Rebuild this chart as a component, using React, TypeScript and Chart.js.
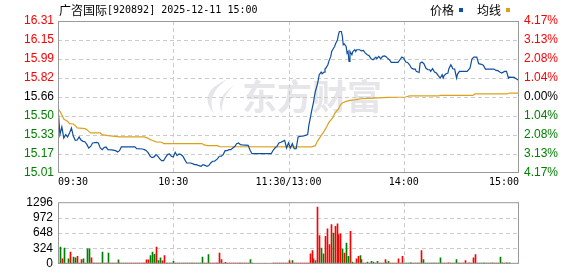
import React, { useEffect, useRef } from 'react';
import { Chart, registerables } from 'chart.js';

Chart.register(...registerables);

// ---------------- data ----------------
const stockName = '广咨国际';
const stockCode = '[920892]';
const tradeTime = '2025-12-11 15:00';
const legendNames = ['价格', '均线'];
const watermarkText = '东方财富';

const prevClose = 15.66;
const limitPct = 4.17;
const priceTickLabels = ['15.01', '15.17', '15.33', '15.50', '15.66', '15.82', '15.99', '16.15', '16.31'];
const pctTickLabels = ['4.17%', '3.13%', '2.08%', '1.04%', '0.00%', '1.04%', '2.08%', '3.13%', '4.17%'];
const volTickLabels = ['0', '324', '648', '972', '1296'];
const volTickValues = [0, 324, 648, 972, 1296];
const timeLabels = ['09:30', '10:30', '11:30/13:00', '14:00', '15:00'];
const timeLabelMinutes = [0, 60, 120, 180, 240];
const totalMinutes = 240;

const priceMinutes = [
  0, 1, 2, 3, 4, 5, 6, 7, 8, 9, 10, 11, 12, 13, 14, 15, 16, 17, 18, 20,
  21, 22, 23, 24, 25, 26, 28, 30, 31, 32, 33, 40, 41, 44, 45, 46, 47, 48, 49, 50,
  51, 52, 53, 54, 55, 56, 57, 58, 59, 60, 61, 62, 63, 64, 65, 66, 67, 69, 70, 71,
  72, 73, 74.5, 75.5, 76.5, 77.5, 78.5, 79.5, 80.5, 81.5, 83, 84, 85, 86, 87, 88, 89, 90, 91, 92,
  93, 94, 95, 96, 99, 100, 101, 111, 112, 113, 114, 115, 116, 117, 118, 119, 120, 121, 122, 123,
  124, 125, 126, 128, 130, 130.5, 131.5, 132, 133, 133.5, 134, 135, 135.5, 136, 137, 137.5, 138.5, 139, 139.5, 140.5,
  141, 142, 142.5, 143, 144, 144.5, 145.5, 146, 146.5, 147.5, 148, 148.5, 149, 150, 150.5, 151, 151.5, 152, 153, 153.5,
  154.5, 155, 155.5, 157, 158, 159, 160, 161, 162, 163, 164, 165.5, 166, 167, 168, 169, 170, 171, 171.5, 172.5,
  173.5, 177, 178, 179, 180, 181, 182, 183, 184, 185, 186, 186.5, 188, 188.5, 189.5, 190.5, 191.5, 192.5, 193.5, 194,
  195, 196, 197, 198, 199, 200, 200.5, 201, 202, 203, 203.5, 204.5, 205, 205.5, 206.5, 207, 207.5, 208, 209, 213,
  214, 214.5, 215.5, 216.5, 218, 219, 220, 221, 221.5, 222.5, 227, 228, 229, 230, 231, 232.5, 233.5, 234.5, 235, 237.5,
  238.5, 239.5, 240,
];
const priceValues = [
  15.574, 15.337, 15.403, 15.308, 15.337, 15.317, 15.351, 15.394, 15.322, 15.288, 15.29, 15.317, 15.29, 15.279, 15.276, 15.253, 15.222, 15.235, 15.265, 15.27,
  15.265, 15.222, 15.208, 15.225, 15.23, 15.208, 15.205, 15.199, 15.188, 15.199, 15.231, 15.231, 15.216, 15.213, 15.208, 15.199, 15.18, 15.15, 15.139, 15.145,
  15.165, 15.15, 15.128, 15.113, 15.113, 15.142, 15.165, 15.171, 15.151, 15.145, 15.185, 15.156, 15.171, 15.165, 15.151, 15.122, 15.093, 15.093, 15.088, 15.079,
  15.079, 15.073, 15.065, 15.079, 15.073, 15.065, 15.071, 15.093, 15.108, 15.108, 15.128, 15.151, 15.151, 15.165, 15.199, 15.199, 15.208, 15.208, 15.222, 15.234,
  15.259, 15.265, 15.251, 15.248, 15.245, 15.202, 15.173, 15.173, 15.202, 15.222, 15.236, 15.265, 15.271, 15.279, 15.288, 15.222, 15.265, 15.222, 15.259, 15.216,
  15.216, 15.317, 15.322, 15.326, 15.337, 15.408, 15.494, 15.537, 15.614, 15.665, 15.708, 15.766, 15.808, 15.851, 15.874, 15.86, 15.874, 15.9, 15.909, 15.937,
  15.966, 16.009, 16.051, 16.066, 16.094, 16.117, 16.152, 16.195, 16.223, 16.223, 16.186, 16.109, 16.117, 16.094, 16.037, 16.051, 15.966, 16.051, 16.023, 16.051,
  16.066, 16.051, 16.066, 16.066, 16.057, 16.06, 16.037, 16.023, 16.014, 15.989, 15.98, 16.003, 15.989, 16.009, 15.989, 16.009, 16.014, 16.003, 15.994, 15.98,
  15.957, 15.957, 15.98, 16.003, 15.994, 15.96, 15.957, 15.937, 15.909, 15.9, 15.9, 15.88, 15.871, 15.951, 15.96, 15.946, 15.909, 15.894, 15.894, 15.88,
  15.903, 15.874, 15.866, 15.843, 15.823, 15.851, 15.823, 15.843, 15.86, 15.866, 15.903, 15.937, 15.923, 15.903, 15.9, 15.86, 15.823, 15.857, 15.88, 15.88,
  15.9, 15.909, 15.986, 16.003, 16.003, 15.946, 15.943, 15.937, 15.931, 15.9, 15.9, 15.888, 15.886, 15.874, 15.866, 15.88, 15.88, 15.823, 15.831, 15.828,
  15.817, 15.808, 15.808,
];

const avgMinutes = [
  0, 1, 2, 3, 4, 5, 6, 8, 9, 10, 14, 15, 16, 17, 22, 23, 26, 31, 32, 45,
  47, 48, 49, 51, 54, 55, 75, 76, 78, 83, 84, 132, 134, 135, 137, 138, 139, 140, 141, 143,
  144, 146, 147, 148, 150, 152, 155, 158, 164, 172, 181, 183, 198, 199, 216, 217, 234, 235, 240,
];
const avgValues = [
  15.557, 15.536, 15.508, 15.471, 15.46, 15.451, 15.431, 15.428, 15.414, 15.394, 15.388, 15.38, 15.365, 15.351, 15.351, 15.337, 15.328, 15.32, 15.317, 15.317,
  15.305, 15.294, 15.288, 15.274, 15.271, 15.26, 15.26, 15.248, 15.242, 15.242, 15.234, 15.231, 15.242, 15.279, 15.328, 15.351, 15.38, 15.408, 15.442, 15.48,
  15.517, 15.557, 15.591, 15.609, 15.622, 15.631, 15.637, 15.645, 15.651, 15.657, 15.66, 15.669, 15.669, 15.674, 15.674, 15.686, 15.686, 15.694, 15.694,
];

// one volume per minute (0..240)
const volumes = [
  20, 350, 105, 333, 12, 105, 245, 15, 140, 128,
  158, 15, 88, 105, 15, 315, 315, 128, 15, 15,
  15, 15, 15, 245, 15, 15, 228, 15, 15, 15,
  15, 82, 15, 15, 15, 15, 15, 15, 15, 15,
  15, 15, 15, 15, 15, 15, 82, 82, 175, 245,
  200, 350, 70, 128, 64, 175, 15, 15, 15, 15,
  53, 15, 15, 15, 15, 15, 15, 15, 15, 15,
  15, 15, 15, 15, 15, 140, 15, 15, 193, 15,
  15, 15, 15, 15, 228, 88, 15, 30, 15, 15,
  15, 15, 15, 15, 15, 15, 15, 15, 15, 15,
  88, 15, 0, 0, 0, 0, 0, 0, 0, 0,
  0, 0, 15, 15, 15, 15, 15, 15, 15, 15,
  70, 15, 70, 15, 15, 15, 15, 15, 15, 15,
  15, 210, 280, 105, 70, 1191, 596, 333, 210, 578,
  736, 403, 823, 648, 788, 841, 613, 631, 315, 228,
  438, 158, 683, 35, 15, 105, 158, 175, 88, 15,
  15, 35, 15, 53, 35, 15, 53, 15, 15, 15,
  88, 20, 53, 15, 15, 15, 15, 105, 15, 158,
  15, 15, 15, 20, 15, 15, 15, 15, 15, 280,
  88, 15, 15, 15, 15, 15, 15, 15, 15, 123,
  15, 15, 15, 20, 15, 15, 15, 88, 15, 15,
  15, 15, 70, 15, 20, 15, 123, 193, 15, 15,
  15, 15, 15, 15, 15, 15, 20, 15, 15, 15,
  140, 20, 15, 20, 15, 20, 0, 0, 0, 0, 333,
];
// r = up minute (red), g = down minute (green)
const volumeDirections =
  'ggrgggrrgg' + 'rrrggggrrg' + 'rgrgrrgrgr' + 'rgrrrgrrrr' + 'rrrrrrrrgg' +
  'grggrrgrrg' + 'grgrrgrgrg' + 'rgrgggrrgr' + 'rrrrrrgrrr' + 'rrrrrgrrrr' +
  'ggrrrrrrrr' + 'rrrrrrrrrr' + 'rrgrrrrrrr' + 'rrrrgrrggr' + 'rrrgrrrrgr' +
  'ggrggrrgrr' + 'ggrggrgrrr' + 'rggrrrrrrr' + 'gggggrrggr' + 'gggggggrgg' +
  'grrrrgggrr' + 'rgrrrrrrgg' + 'gggggrrgrr' + 'ggrrggggggg';

// ---------------- styles ----------------
const BLUE = '#0f4f9f';
const ORANGE = '#dca11c';
const UP = '#ff0000';
const DOWN = '#008000';
const GRID = '#cccccc';
const BORDER = '#999999';
const LATIN = '"Liberation Sans", Arial, sans-serif';
const MONO = '"DejaVu Sans Mono", monospace';
const CJK = '"Noto Sans CJK SC", sans-serif';

const priceMin = prevClose * (1 - limitPct / 100);
const priceMax = prevClose * (1 + limitPct / 100);
const priceTickValues = priceTickLabels.map(
  (_, i) => priceMin + (i * (priceMax - priceMin)) / (priceTickLabels.length - 1)
);
const mid = (priceTickLabels.length - 1) / 2;
const tickColor = (i: number) => (i > mid ? UP : i < mid ? DOWN : '#000');

const gridPlugin = (hLines: () => number[]) => ({
  id: 'customGrid',
  beforeDatasetsDraw(chart: any) {
    const { ctx, chartArea } = chart;
    const { left, right, top, bottom } = chartArea;
    ctx.save();
    ctx.strokeStyle = GRID;
    ctx.lineWidth = 1;
    ctx.setLineDash([4, 3]);
    ctx.beginPath();
    hLines().forEach((v) => {
      const y = Math.round(chart.scales.y.getPixelForValue(v)) + 0.5;
      ctx.moveTo(left, y);
      ctx.lineTo(right, y);
    });
    timeLabelMinutes.slice(1, -1).forEach((m) => {
      const x = Math.round(chart.scales.x.getPixelForValue(m)) + 0.5;
      ctx.moveTo(x, top);
      ctx.lineTo(x, bottom);
    });
    ctx.stroke();
    ctx.restore();
  },
  afterDatasetsDraw(chart: any) {
    const { ctx, chartArea } = chart;
    const { left, right, top, bottom } = chartArea;
    ctx.save();
    ctx.strokeStyle = BORDER;
    ctx.lineWidth = 1;
    ctx.strokeRect(left + 0.5, top + 0.5, right - left - 1, bottom - top - 1);
    ctx.restore();
  },
});

// snap each 1px volume bar onto a whole pixel column so it stays crisp
const crispBarsPlugin = {
  id: 'crispBars',
  beforeDatasetsDraw(chart: any) {
    chart.getDatasetMeta(0).data.forEach((el: any) => {
      el.x = Math.round(el.x) + 0.5;
    });
  },
};

const watermarkPlugin = {
  id: 'watermark',
  beforeDatasetsDraw(chart: any) {
    const { ctx } = chart;
    ctx.save();
    ctx.fillStyle = '#e6e6ea';
    ctx.beginPath();
    ctx.moveTo(228, 79);
    ctx.quadraticCurveTo(196, 92, 214, 114);
    ctx.quadraticCurveTo(205, 94, 228, 79);
    ctx.fill();
    ctx.beginPath();
    ctx.moveTo(236, 84);
    ctx.quadraticCurveTo(214, 98, 222, 112);
    ctx.quadraticCurveTo(221, 96, 236, 84);
    ctx.fill();
    ctx.font = `bold 35px ${CJK}`;
    ctx.textBaseline = 'middle';
    ctx.textAlign = 'left';
    ctx.fillText(watermarkText, 242, 97);
    ctx.restore();
  },
};

const textPlugin = {
  id: 'texts',
  afterDraw(chart: any) {
    const { ctx } = chart;
    const xs = chart.scales.x;
    ctx.save();
    ctx.fillStyle = '#000';
    ctx.textBaseline = 'middle';
    // title
    ctx.textAlign = 'left';
    ctx.font = `12px ${CJK}`;
    let x = 59;
    ctx.fillText(stockName, x, 10);
    x += ctx.measureText(stockName).width;
    ctx.font = `10px ${MONO}`;
    ctx.fillText(`${stockCode} ${tradeTime}`, x, 10.5);
    // legend
    const legendColors = [BLUE, ORANGE];
    let lx = 430;
    legendNames.forEach((name, i) => {
      ctx.font = `12px ${CJK}`;
      ctx.fillStyle = '#000';
      ctx.fillText(name, lx, 10);
      lx += ctx.measureText(name).width + 5;
      ctx.fillStyle = legendColors[i];
      ctx.fillRect(lx, 8, 4, 4);
      lx += 18;
    });
    // time labels
    ctx.fillStyle = '#000';
    ctx.font = `10px ${MONO}`;
    timeLabels.forEach((t, i) => {
      const px = xs.getPixelForValue(timeLabelMinutes[i]);
      ctx.textAlign = i === 0 ? 'left' : i === timeLabels.length - 1 ? 'right' : 'center';
      ctx.fillText(t, px, 182);
    });
    ctx.restore();
  },
};

function priceConfig(): any {
  return {
    type: 'line',
    data: {
      datasets: [
        {
          label: legendNames[0],
          data: priceMinutes.map((m, i) => ({ x: m, y: priceValues[i] })),
          borderColor: BLUE,
          borderWidth: 1.2,
          pointRadius: 0,
          tension: 0,
        },
        {
          label: legendNames[1],
          data: avgMinutes.map((m, i) => ({ x: m, y: avgValues[i] })),
          borderColor: ORANGE,
          borderWidth: 1.2,
          pointRadius: 0,
          tension: 0,
        },
      ],
    },
    options: {
      responsive: false,
      animation: false,
      devicePixelRatio: 1,
      layout: { padding: { top: 21, bottom: 17, left: 0, right: 0 } },
      plugins: { legend: { display: false }, tooltip: { enabled: false }, title: { display: false } },
      scales: {
        x: { type: 'linear', min: 0, max: totalMinutes, display: false },
        y: {
          position: 'left',
          min: priceMin,
          max: priceMax,
          afterFit: (s: any) => { s.width = 58; },
          afterBuildTicks: (s: any) => { s.ticks = priceTickValues.map((v) => ({ value: v })); },
          ticks: {
            autoSkip: false,
            padding: 4,
            font: { family: LATIN, size: 12 },
            color: (c: any) => tickColor(c.index),
            callback: (_v: any, i: number) => priceTickLabels[i],
          },
          grid: { display: false, drawTicks: false },
          border: { display: false },
        },
        yR: {
          position: 'right',
          min: priceMin,
          max: priceMax,
          afterFit: (s: any) => { s.width = 59; },
          afterBuildTicks: (s: any) => { s.ticks = priceTickValues.map((v) => ({ value: v })); },
          ticks: {
            autoSkip: false,
            padding: 5,
            font: { family: LATIN, size: 12 },
            color: (c: any) => tickColor(c.index),
            callback: (_v: any, i: number) => pctTickLabels[i],
          },
          grid: { display: false, drawTicks: false },
          border: { display: false },
        },
      },
    },
    plugins: [watermarkPlugin, gridPlugin(() => priceTickValues.slice(1, -1)), textPlugin],
  };
}

function volumeConfig(): any {
  return {
    type: 'bar',
    data: {
      datasets: [
        {
          data: volumes.map((v, i) => ({ x: i, y: v })),
          backgroundColor: volumes.map((_, i) => (volumeDirections[i] === 'r' ? UP : DOWN)),
          barThickness: 1,
          borderWidth: 0,
        },
      ],
    },
    options: {
      responsive: false,
      animation: false,
      devicePixelRatio: 1,
      layout: { padding: { top: 6, bottom: 5, left: 0, right: 59 } },
      plugins: { legend: { display: false }, tooltip: { enabled: false } },
      scales: {
        x: { type: 'linear', min: 0, max: totalMinutes, display: false, offset: false },
        y: {
          position: 'left',
          min: volTickValues[0],
          max: volTickValues[volTickValues.length - 1],
          afterFit: (s: any) => { s.width = 58; },
          afterBuildTicks: (s: any) => { s.ticks = volTickValues.map((v) => ({ value: v })); },
          ticks: {
            autoSkip: false,
            padding: 5,
            font: { family: LATIN, size: 12 },
            color: '#000',
            callback: (_v: any, i: number) => volTickLabels[i],
          },
          grid: { display: false, drawTicks: false },
          border: { display: false },
        },
      },
    },
    plugins: [crispBarsPlugin, gridPlugin(() => volTickValues.slice(1, -1))],
  };
}

export default function App() {
  const priceRef = useRef<HTMLCanvasElement>(null);
  const volRef = useRef<HTMLCanvasElement>(null);
  useEffect(() => {
    const pc = new Chart(priceRef.current as HTMLCanvasElement, priceConfig());
    const vc = new Chart(volRef.current as HTMLCanvasElement, volumeConfig());
    return () => {
      pc.destroy();
      vc.destroy();
    };
  }, []);
  return (
    <div style={{ position: 'fixed', left: 0, top: 0, width: 578, height: 276, background: '#fff' }}>
      <canvas ref={priceRef} width={578} height={190} style={{ position: 'absolute', left: 0, top: 0 }} />
      <canvas ref={volRef} width={578} height={86} style={{ position: 'absolute', left: 0, top: 190 }} />
    </div>
  );
}
